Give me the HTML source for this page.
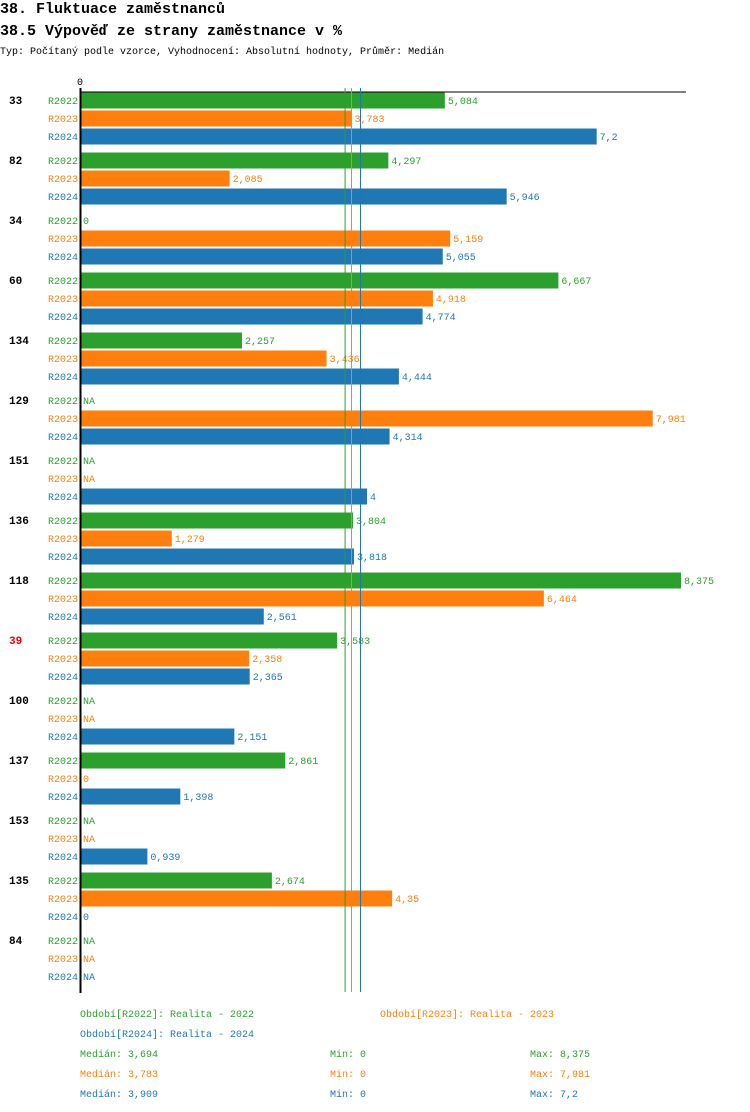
<!DOCTYPE html>
<html><head><meta charset="utf-8"><style>
body{margin:0;background:#fff;width:750px;height:1112px;overflow:hidden}
svg{display:block;font-family:"Liberation Mono",monospace}
</style></head><body>
<svg id="c" width="750" height="1112">
<text x="0" y="13" font-size="15" font-weight="bold">38. Fluktuace zaměstnanců</text>
<text x="0" y="35" font-size="15" font-weight="bold">38.5 Výpověď ze strany zaměstnance v %</text>
<text x="0" y="54" font-size="10">Typ: Počítaný podle vzorce, Vyhodnocení: Absolutní hodnoty, Průměr: Medián</text>
<text x="80" y="85" font-size="10" text-anchor="middle">0</text>
</svg>
<script>
const groups=["33","82","34","60","134","129","151","136","118","39","100","137","153","135","84"];
const seriesNames=["R2022","R2023","R2024"];
const r2022=[5.084,4.297,0,6.667,2.257,null,null,3.804,8.375,3.583,null,2.861,null,2.674,null];
const r2023=[3.783,2.085,5.159,4.918,3.436,7.981,null,1.279,6.464,2.358,null,0,null,4.35,null];
const r2024=[7.2,5.946,5.055,4.774,4.444,4.314,4,3.818,2.561,2.365,2.151,1.398,0.939,0,null];
const medians=[3.694,3.783,3.909];
const mins=[0,0,0];
const maxs=[8.375,7.981,7.2];
const legendTitles=["Období[R2022]: Realita - 2022","Období[R2023]: Realita - 2023","Období[R2024]: Realita - 2024"];
const colors=["#2ca02c","#ff7f0e","#1f77b4"];
const data=[r2022,r2023,r2024];
const svg=document.getElementById('c');const NS="http://www.w3.org/2000/svg";
const x=v=>80+v*71.76;
const yRow=(g,s)=>100+g*60+s*18;
function mk(t,a,txt){const e=document.createElementNS(NS,t);for(const k in a)e.setAttribute(k,a[k]);if(txt!=null)e.textContent=txt;svg.appendChild(e);return e;}
const fmt=v=>String(v).replace('.',',');
groups.forEach((g,gi)=>{
  const t=mk('text',{x:9,y:yRow(gi,0)+4,'font-size':11,'font-weight':'bold',fill:g==="39"?"#e00":"#000"},g);
  
  
  seriesNames.forEach((s,si)=>{
    const cy=yRow(gi,si);const v=data[si][gi];
    const l=mk('text',{x:78,y:cy+4,'font-size':10,'text-anchor':'end',fill:colors[si]},s);
    
    
    if(v!=null&&v>0){
      const b=mk('rect',{x:80,y:cy-7.5,width:x(v)-80,height:16,fill:colors[si]});
      
      
    }
    const vl=mk('text',{x:(v!=null?x(v):80)+3,y:cy+4,'font-size':10,fill:colors[si]},v==null?"NA":fmt(v));
    
    
  });
});
const ax=mk('line',{x1:80,y1:92,x2:686,y2:92,stroke:'#000','stroke-width':1});


const ay=mk('line',{x1:80.5,y1:88,x2:80.5,y2:993,stroke:'#000','stroke-width':2});


medians.forEach((m,i)=>{
  const ml=mk('line',{x1:x(m),y1:88,x2:x(m),y2:992,stroke:colors[i],'stroke-width':1});
  
  
});
const legPos=[[80,1017],[380,1017],[80,1037]];
legendTitles.forEach((t,i)=>{
  const e=mk('text',{x:legPos[i][0],y:legPos[i][1],'font-size':10,fill:colors[i]},t);
  
  
});
medians.forEach((m,i)=>{
  const y=1057+i*20;
  const a=mk('text',{x:80,y:y,'font-size':10,fill:colors[i]},"Medián: "+fmt(m));
  
  
  const b=mk('text',{x:330,y:y,'font-size':10,fill:colors[i]},"Min: "+fmt(mins[i]));
  
  
  const c=mk('text',{x:530,y:y,'font-size':10,fill:colors[i]},"Max: "+fmt(maxs[i]));
  
  
});
</script>
</body></html>
